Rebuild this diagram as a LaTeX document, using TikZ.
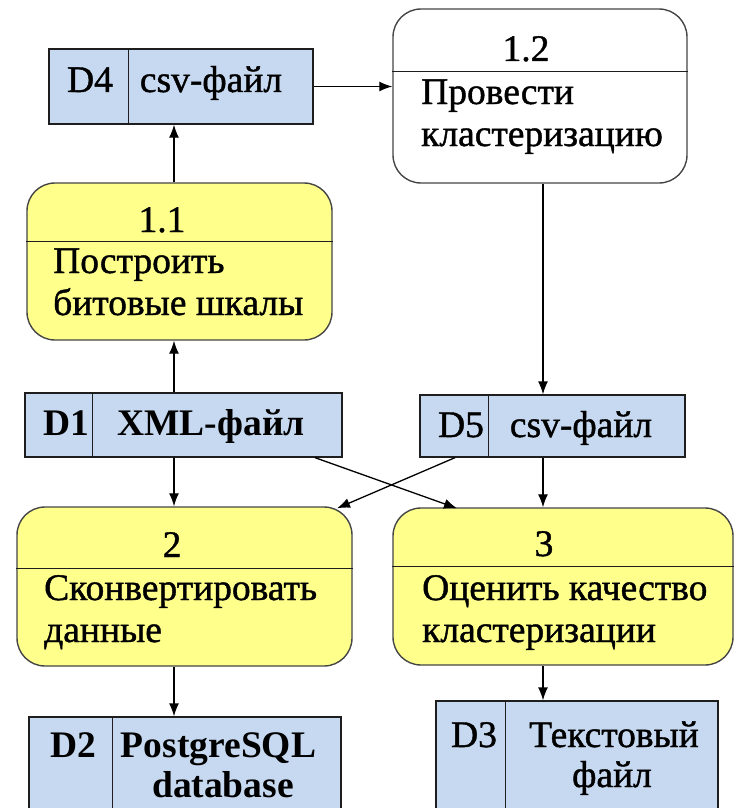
\documentclass[tikz,border=0pt]{standalone}
\usepackage{fontspec}
\setmainfont{Liberation Serif}
\newfontfamily\regfont{Liberation Serif}[FakeBold=1.1]
\usetikzlibrary{arrows.meta}
\definecolor{procyel}{RGB}{255,255,140}
\definecolor{storeblue}{RGB}{198,217,240}
\definecolor{procline}{RGB}{70,70,70}
\definecolor{storeline}{RGB}{30,30,30}
\begin{document}
\begin{tikzpicture}[x=1pt,y=-1pt,
  proc/.style={draw=procline, line width=1.4pt, rounded corners=28pt, inner sep=0pt},
  store/.style={draw=storeline, fill=storeblue, line width=1.3pt, inner sep=0pt},
  divline/.style={draw=storeline, line width=1.2pt},
  txt/.style={inner sep=0pt, font=\regfont\fontsize{37.5pt}{42pt}\selectfont},
  btxt/.style={inner sep=0pt, font=\fontsize{37.5pt}{42pt}\selectfont\bfseries},
  arr/.style={-{Latex[length=13pt,width=10pt]}, line width=1.3pt, draw=black}]
\clip (0,0) rectangle (735,808);
\fill[white] (0,0) rectangle (735,808);

% process boxes
\node[proc, fill=white, minimum width=294pt, minimum height=174pt] (p12) at (540,96) {};
\draw[divline] ([yshift=-63pt]p12.north west) -- ([yshift=-63pt]p12.north east);
\node[txt, anchor=base] (n12) at (526,61) {1.2};
\node[txt, anchor=base west] (b12a) at (421,104) {Провести};
\node[txt, anchor=base west] (b12b) at (421,146) {кластеризацию};

\node[proc, fill=procyel, minimum width=305pt, minimum height=157pt] (p11) at (179.5,261.5) {};
\draw[divline] ([yshift=-59pt]p11.north west) -- ([yshift=-59pt]p11.north east);
\node[txt, anchor=base] (n11) at (162,232) {1.1};
\node[txt, anchor=base west] (b11a) at (53,273) {Построить};
\node[txt, anchor=base west] (b11b) at (53,315) {битовые шкалы};

\node[proc, fill=procyel, minimum width=335pt, minimum height=159pt] (p2) at (184.5,586.5) {};
\draw[divline] ([yshift=-62pt]p2.north west) -- ([yshift=-62pt]p2.north east);
\node[txt, anchor=base] (n2) at (172,557) {2};
\node[txt, anchor=base west] (b2a) at (44,600) {Сконвертировать};
\node[txt, anchor=base west] (b2b) at (44,642) {данные};

\node[proc, fill=procyel, minimum width=340pt, minimum height=157pt] (p3) at (563,586.5) {};
\draw[divline] ([yshift=-59pt]p3.north west) -- ([yshift=-59pt]p3.north east);
\node[txt, anchor=base] (n3) at (544,556) {3};
\node[txt, anchor=base west] (b3a) at (422,600) {Оценить качество};
\node[txt, anchor=base west] (b3b) at (422,642) {кластеризации};

% data stores
\node[store, minimum width=264pt, minimum height=75pt] (d4) at (181,86.5) {};
\draw[divline] ([xshift=80pt]d4.north west) -- ([xshift=80pt]d4.south west);
\node[txt, anchor=base] (l4) at (90,92) {D4};
\node[txt, anchor=base] (s4) at (211,92) {csv-файл};

\node[store, minimum width=317pt, minimum height=64pt] (d1) at (183.5,425) {};
\draw[divline] ([xshift=68pt]d1.north west) -- ([xshift=68pt]d1.south west);
\node[btxt, anchor=base] (l1) at (66,435) {D1};
\node[btxt, anchor=base] (s1) at (211,435) {XML-файл};

\node[store, minimum width=265pt, minimum height=62pt] (d5) at (552.5,426) {};
\draw[divline] ([xshift=69pt]d5.north west) -- ([xshift=69pt]d5.south west);
\node[txt, anchor=base] (l5) at (461,437) {D5};
\node[txt, anchor=base] (s5) at (581,437) {csv-файл};

\node[store, minimum width=312pt, minimum height=114pt] (d2) at (185,774) {};
\draw[divline] ([xshift=84pt]d2.north west) -- ([xshift=84pt]d2.south west);
\node[btxt, anchor=base] (l2) at (73.5,757) {D2};
\node[btxt, anchor=base] (s2a) at (218.5,757) {PostgreSQL};
\node[btxt, anchor=base] (s2b) at (223,797) {database};

\node[store, minimum width=282pt, minimum height=129pt] (d3) at (577,765.5) {};
\draw[divline] ([xshift=70pt]d3.north west) -- ([xshift=70pt]d3.south west);
\node[txt, anchor=base] (l3) at (474,747) {D3};
\node[txt, anchor=base] (s3a) at (614,747) {Текстовый};
\node[txt, anchor=base] (s3b) at (612,787) {файл};

% connectors
\coordinate (xa) at (174,0);
\coordinate (xb) at (543,0);
\draw[arr] (d4.east) -- (d4.east -| p12.west);
\draw[arr] (xa |- p11.north) -- (xa |- d4.south);
\draw[arr] (xa |- d1.north) -- (xa |- p11.south);
\draw[arr] (xb |- p12.south) -- (xb |- d5.north);
\draw[arr] (xa |- d1.south) -- (xa |- p2.north);
\draw[arr] (xb |- d5.south) -- (xb |- p3.north);
\draw[arr] ([xshift=131.5pt]d1.south) -- ([xshift=-106pt,yshift=-1pt]p3.north);
\draw[arr] ([xshift=-97.5pt]d5.south) -- ([xshift=152.5pt,yshift=-2pt]p2.north);
\draw[arr] (xa |- p2.south) -- (xa |- d2.north);
\draw[arr] (xb |- p3.south) -- (xb |- d3.north);
\end{tikzpicture}
\end{document}
